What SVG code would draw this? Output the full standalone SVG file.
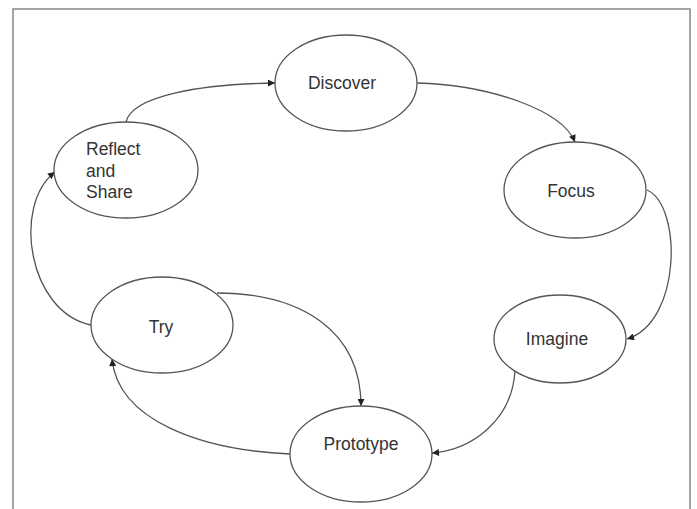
<svg xmlns="http://www.w3.org/2000/svg" width="697" height="509" viewBox="0 0 697 509">
<style>
.node ellipse{fill:#fff;stroke:#555;stroke-width:1.3}
.node text{font-family:"Liberation Sans",Arial,sans-serif;font-size:17.5px;fill:#333}
.conn path{fill:none;stroke:#555;stroke-width:1.3;marker-end:url(#ah)}
</style>
<defs>
<marker id="ah" viewBox="0 0 10 10" refX="10" refY="5" markerWidth="9" markerHeight="7" markerUnits="userSpaceOnUse" orient="auto">
<path d="M0,0 L10,5 L0,10 z" fill="#222"/>
</marker>
</defs>
<rect width="697" height="509" fill="#fff"/>
<path d="M13,509 V9 H690 V509" fill="none" stroke="#888" stroke-width="1.5"/>
<g class="conn">
<path d="M126,122 C132,96 200,84 275,83"/>
<path d="M417,83 C490,85 562,110 575,142"/>
<path d="M647,190 C682,205 682,322 627,339"/>
<path d="M515,371 C512,420 472,450 432,453"/>
<path d="M290,454 C200,450 118,420 112,359"/>
<path d="M217,293 C300,293 361,330 361,406"/>
<path d="M91,325 C28,312 12,205 55,172"/>
</g>
<g id="discover" class="node"><ellipse cx="346" cy="83" rx="71" ry="48"/><text x="342" y="89" text-anchor="middle">Discover</text></g>
<g id="reflect" class="node"><ellipse cx="126" cy="170" rx="72" ry="48"/><text x="86" y="155">Reflect</text><text x="86" y="177">and</text><text x="86" y="198">Share</text></g>
<g id="focus" class="node"><ellipse cx="575" cy="190" rx="71" ry="48"/><text x="571" y="197" text-anchor="middle">Focus</text></g>
<g id="try" class="node"><ellipse cx="162" cy="325" rx="71" ry="48"/><text x="161" y="333" text-anchor="middle">Try</text></g>
<g id="imagine" class="node"><ellipse cx="560" cy="339" rx="66" ry="44"/><text x="557" y="345" text-anchor="middle">Imagine</text></g>
<g id="prototype" class="node"><ellipse cx="361" cy="454" rx="71" ry="48"/><text x="361" y="450" text-anchor="middle">Prototype</text></g>
</svg>
